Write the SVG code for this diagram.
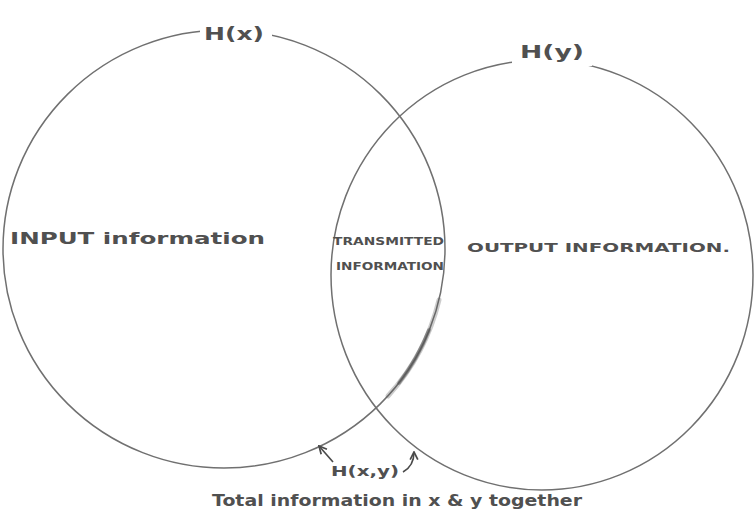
<svg xmlns="http://www.w3.org/2000/svg" width="754" height="525" viewBox="0 0 754 525">
<defs>
<style>
.c{fill:none;stroke:#707070;stroke-width:1.5}
.t{font-family:"DejaVu Sans",sans-serif;fill:#505050;font-weight:bold}
.a{fill:none;stroke:#4a4a4a;stroke-width:1.6}
.s{fill:none;stroke:#555;stroke-linecap:round}
</style>
<marker id="ah" viewBox="0 0 10 10" refX="9" refY="5" markerWidth="6" markerHeight="6" orient="auto"><path d="M1,1 L9,5 L1,9" fill="none" stroke="#4a4a4a" stroke-width="1.8"/></marker>
</defs>
<rect width="754" height="525" fill="#ffffff"/>
<g id="hx">
<ellipse class="c" cx="224" cy="249" rx="221" ry="219"/>
<rect x="200" y="20" width="72" height="24" fill="#fff"/>
<text class="t" x="204" y="40" font-size="17" textLength="60" lengthAdjust="spacingAndGlyphs">H(x)</text>
</g>
<g id="hy">
<ellipse class="c" cx="542" cy="275" rx="211" ry="215"/>
<rect x="512" y="40" width="80" height="26" fill="#fff"/>
<text class="t" x="520" y="58" font-size="17" textLength="64" lengthAdjust="spacingAndGlyphs">H(y)</text>
</g>
<path class="s" d="M439,300 A221,219 0 0 1 388,396" stroke-width="5" opacity="0.3"/>
<path class="s" d="M429,330 A221,219 0 0 1 399,383" stroke-width="3.5" opacity="0.6"/>
<g id="labels">
<text class="t" x="10" y="244" font-size="16" textLength="255" lengthAdjust="spacingAndGlyphs">INPUT information</text>
<text class="t" x="333" y="245" font-size="11" textLength="111" lengthAdjust="spacingAndGlyphs">TRANSMITTED</text>
<text class="t" x="336" y="270" font-size="11" textLength="108" lengthAdjust="spacingAndGlyphs">INFORMATION</text>
<text class="t" x="467" y="252" font-size="13" textLength="263" lengthAdjust="spacingAndGlyphs">OUTPUT INFORMATION.</text>
<text class="t" x="331" y="476" font-size="14" textLength="68" lengthAdjust="spacingAndGlyphs">H(x,y)</text>
<text class="t" x="212" y="506" font-size="15" textLength="370" lengthAdjust="spacingAndGlyphs">Total information in x &amp; y together</text>
</g>
<g id="connectors">
<path class="a" d="M333,462 L319,446" marker-end="url(#ah)"/>
<path class="a" d="M403,472 Q414,466 414,452" marker-end="url(#ah)"/>
</g>
</svg>
